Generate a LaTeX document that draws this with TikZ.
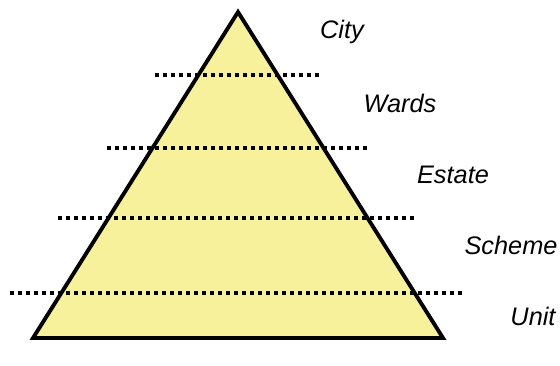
\documentclass[tikz,border=0pt]{standalone}
\usepackage{fontspec}
\setmainfont{Liberation Sans}
\definecolor{pyr}{RGB}{247,241,155}
\begin{document}
\begin{tikzpicture}[x=0.75pt,y=-0.75pt,
  lvl/.style={line width=2.7pt,dash pattern=on 2.7pt off 3.3pt},
  lbl/.style={font=\fontsize{19pt}{22pt}\selectfont\itshape,inner sep=0pt}]
\useasboundingbox (0,0) rectangle (560,365);
\coordinate (apex) at (238,12);
\coordinate (bl) at (33,338);
\coordinate (br) at (443,338);
\filldraw[fill=pyr,line width=2.9pt,line join=miter] (apex) -- (br) -- (bl) -- cycle;
\coordinate (a1) at (155,75); \coordinate (b1) at (321,75);
\coordinate (a2) at (107,148); \coordinate (b2) at (369,148);
\coordinate (a3) at (58,218); \coordinate (b3) at (417,218);
\coordinate (a4) at (10,293); \coordinate (b4) at (465,293);
\draw[lvl] (a1) -- (b1);
\draw[lvl] (a2) -- (b2);
\draw[lvl] (a3) -- (b3);
\draw[lvl] (a4) -- (b4);
\node[lbl] (city) at (342,32) {City};
\node[lbl] (wards) at (400,103) {Wards};
\node[lbl] (estate) at (453,175) {Estate};
\node[lbl] (scheme) at (511,245) {Scheme};
\node[lbl] (unit) at (533,316) {Unit};
\end{tikzpicture}
\end{document}
